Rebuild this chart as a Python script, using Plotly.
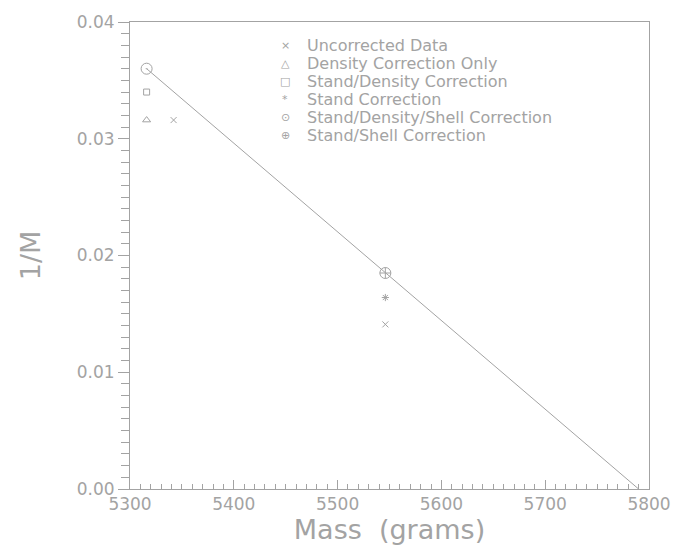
import plotly.graph_objects as go

# Data
uncorr_x = [5342, 5546]
uncorr_y = [0.0316, 0.0141]
dens_x = [5316]
dens_y = [0.0316]
stand_dens_x = [5316]
stand_dens_y = [0.0340]
stand_x = [5546]
stand_y = [0.0164]
sds_x = [5316]
sds_y = [0.0360]
ss_x = [5546]
ss_y = [0.0185]
fit_x = [5316, 5790]
fit_y = [0.0360, 0.0]

legend_labels = ["Uncorrected Data", "Density Correction Only",
                 "Stand/Density Correction", "Stand Correction",
                 "Stand/Density/Shell Correction", "Stand/Shell Correction"]
legend_glyphs = ["×", "△", "□", "*", "⊙", "⊕"]

GRAY = "#a3a3a3"
FONT = "DejaVu Sans"

fig = go.Figure()

fig.add_trace(go.Scatter(x=fit_x, y=fit_y, mode="lines",
                         line=dict(color=GRAY, width=1), showlegend=False,
                         hoverinfo="skip"))

series = [
    (legend_labels[0], uncorr_x, uncorr_y, "x-thin-open", 6),
    (legend_labels[1], dens_x, dens_y, "triangle-up-open", 7),
    (legend_labels[2], stand_dens_x, stand_dens_y, "square-open", 6),
    (legend_labels[3], stand_x, stand_y, "asterisk-open", 6),
    (legend_labels[4], sds_x, sds_y, "circle-open-dot", 11),
    (legend_labels[5], ss_x, ss_y, "circle-cross-open", 11),
]
for name, xs, ys, sym, sz in series:
    fig.add_trace(go.Scatter(
        x=xs, y=ys, mode="markers", name=name, showlegend=False,
        marker=dict(symbol=sym, size=sz, color=GRAY,
                    line=dict(color=GRAY, width=1)),
    ))

# Legend drawn as text rows (row spacing matching the reference)
row0 = 0.949
step = 0.0385
for i, (g, lab) in enumerate(zip(legend_glyphs, legend_labels)):
    yy = row0 - i * step
    fig.add_annotation(x=0.2987, y=yy, xref="paper", yref="paper",
                       text=g, showarrow=False, xanchor="center",
                       yanchor="middle",
                       font=dict(size=11, color=GRAY, family=FONT))
    fig.add_annotation(x=0.3365, y=yy, xref="paper", yref="paper",
                       text=lab, showarrow=False, xanchor="left",
                       yanchor="middle",
                       font=dict(size=16, color=GRAY, family=FONT))

fig.update_layout(
    width=683, height=555,
    margin=dict(l=130, r=24, t=16, b=66),
    paper_bgcolor="white", plot_bgcolor="white",
    font=dict(family=FONT, color=GRAY, size=15),
    showlegend=False,
    xaxis=dict(range=[5300, 5800], dtick=100, tick0=5300,
               showgrid=False, zeroline=False,
               showline=True, linecolor=GRAY, linewidth=1, mirror=True,
               ticks="inside", ticklen=9, tickcolor=GRAY, tickwidth=1,
               minor=dict(ticks="inside", dtick=10, ticklen=5,
                          tickcolor=GRAY, tickwidth=1),
               tickfont=dict(size=17, color=GRAY),
               title=dict(text="Mass&nbsp;&nbsp;(grams)",
                          font=dict(size=27, color=GRAY), standoff=6)),
    yaxis=dict(range=[0, 0.04], dtick=0.01, tickformat=".2f",
               showgrid=False, zeroline=False,
               showline=True, linecolor=GRAY, linewidth=1, mirror=True,
               ticks="outside", ticklen=11, tickcolor=GRAY, tickwidth=1,
               minor=dict(ticks="outside", dtick=0.001, ticklen=8,
                          tickcolor=GRAY, tickwidth=1),
               tickfont=dict(size=17, color=GRAY),
               title=dict(text="1/M", font=dict(size=27, color=GRAY),
                          standoff=28)),
)

fig.write_html("out.html",
               config={"displayModeBar": False},
               post_script="document.body.style.margin='0';document.body.style.overflow='hidden';")
